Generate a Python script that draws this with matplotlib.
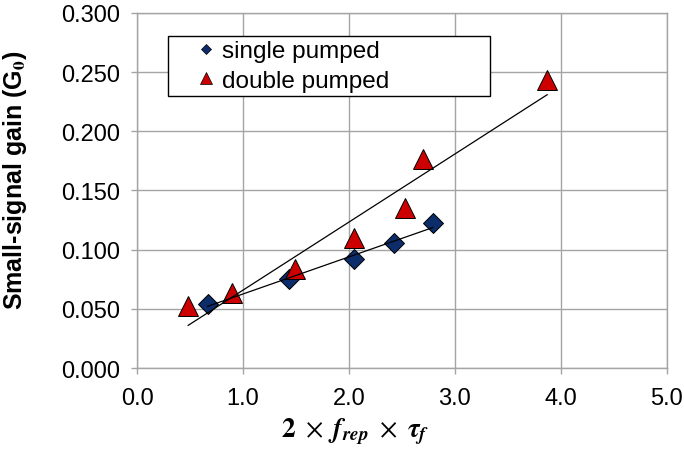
import numpy as np
import matplotlib
matplotlib.use("Agg")
import matplotlib.pyplot as plt
from matplotlib.lines import Line2D

# ---- data ----
single_x = [0.667, 1.433, 2.05, 2.427, 2.793]
single_y = [0.0541, 0.0752, 0.0921, 0.1056, 0.1225]
double_x = [0.483, 0.90, 1.49, 2.05, 2.527, 2.70, 3.873]
double_y = [0.0521, 0.0631, 0.0837, 0.1096, 0.1352, 0.1766, 0.2437]
series_labels = ["single pumped", "double pumped"]
x_ticks = [0.0, 1.0, 2.0, 3.0, 4.0, 5.0]
y_ticks = [0.000, 0.050, 0.100, 0.150, 0.200, 0.250, 0.300]

plt.rcParams['font.family'] = ['Liberation Sans', 'DejaVu Sans']
plt.rcParams['mathtext.fontset'] = 'stix'

navy = '#0c2c6a'
red = '#cc0000'
gridc = '#a4a4a4'

fig = plt.figure(figsize=(6.84, 4.60), dpi=100)
ax = fig.add_axes([137/684, 1-369/460, (666.5-137)/684, (369-14)/460])

ax.set_xlim(0, 5)
ax.set_ylim(0, 0.3)
ax.set_xticks(x_ticks)
ax.set_yticks(y_ticks)
ax.set_xticklabels([f"{v:.1f}" for v in x_ticks])
ax.set_yticklabels([f"{v:.3f}" for v in y_ticks])
ax.grid(True, color=gridc, linewidth=1.0)
ax.set_axisbelow(True)
for s in ax.spines.values():
    s.set_color(gridc)
    s.set_linewidth(1.0)
ax.tick_params(axis='both', direction='out', length=4.5, width=1.0, color=gridc,
               labelsize=17, labelcolor='black')
ax.tick_params(axis='x', pad=9)
ax.tick_params(axis='y', pad=8)

# trend lines (linear fit)
for xs, ys in ((single_x, single_y), (double_x, double_y)):
    p = np.polyfit(xs, ys, 1)
    xx = np.array([min(xs), max(xs)])
    ax.plot(xx, np.polyval(p, xx), color='black', linewidth=0.9, zorder=4)

ax.plot(single_x, single_y, linestyle='none', marker='D', markersize=10.5,
        markerfacecolor=navy, markeredgecolor='black', markeredgewidth=0.7, zorder=3)
ax.plot(double_x, double_y, linestyle='none', marker='^', markersize=15,
        markerfacecolor=red, markeredgecolor='black', markeredgewidth=0.7, zorder=3)

handles = [
    Line2D([], [], linestyle='none', marker='D', markersize=5.6, markerfacecolor=navy,
           markeredgecolor='black', markeredgewidth=0.5),
    Line2D([], [], linestyle='none', marker='^', markersize=8.7, markerfacecolor=red,
           markeredgecolor='black', markeredgewidth=0.5),
]
x0 = (168-137)/529.5
y0 = (369-97)/355
w = (490-168)/529.5
h = (97-37)/355
leg = ax.legend(handles, series_labels, loc='upper left', mode='expand',
                bbox_to_anchor=(x0, y0, w, h), fontsize=17.5,
                frameon=True, fancybox=False, framealpha=1, edgecolor='black',
                borderpad=0.18, labelspacing=0.3, handlelength=2.8, handletextpad=-0.75,
                borderaxespad=0)
leg.get_frame().set_linewidth(1.0)
leg.set_zorder(5)

ax.set_ylabel(r'Small-signal gain (G$_\mathbf{0}$)', fontsize=18, fontweight='bold')
ax.yaxis.set_label_coords(-0.204, 0.532)
ax.set_xlabel(r'$\mathbf{2}\ \times\ \mathbfit{f}_{\mathbfit{rep}}\ \times\ \mathbfit{\tau}_{\mathbfit{f}}$',
              fontsize=19.5)
ax.xaxis.set_label_coords(0.412, -0.135)

fig.savefig('out.png', dpi=100)
